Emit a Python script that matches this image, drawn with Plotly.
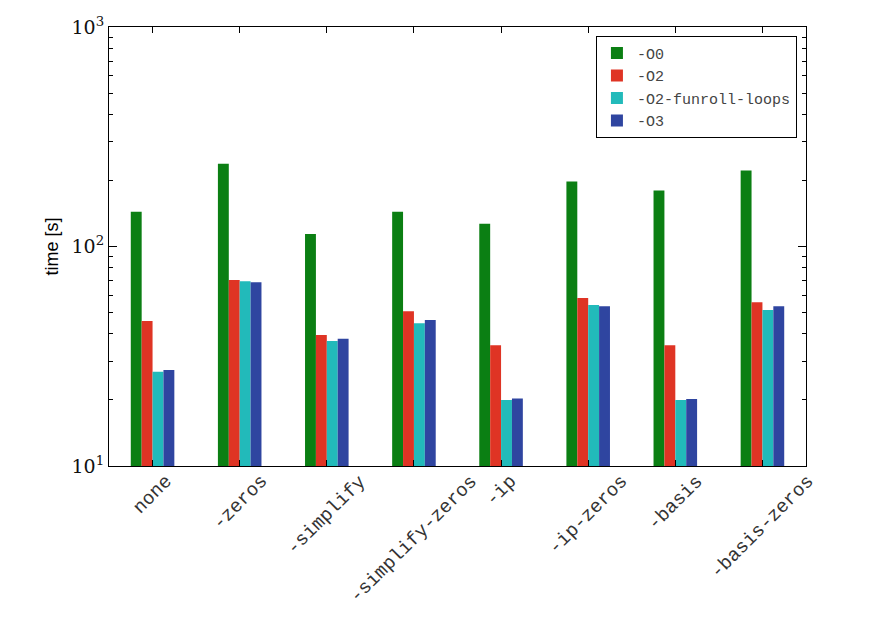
import plotly.graph_objects as go

categories = ["none", "-zeros", "-simplify", "-simplify-zeros", "-ip", "-ip-zeros", "-basis", "-basis-zeros"]
series_names = ["-O0", "-O2", "-O2-funroll-loops", "-O3"]
o0 = [144, 238, 114, 144, 127, 198, 180, 222]
o2 = [45.8, 70.4, 39.5, 50.7, 35.5, 58.3, 35.5, 55.7]
o2_unroll = [26.9, 69.4, 37.1, 44.7, 20.0, 54.1, 20.0, 51.4]
o3 = [27.4, 68.7, 38.0, 46.3, 20.3, 53.4, 20.2, 53.4]
colors = ["#0b7f13", "#df3424", "#22baba", "#2f45a0"]
y_tickvals = [10, 100, 1000]
y_ticktext = ["10<sup>1</sup>", "10<sup>2</sup>", "10<sup>3</sup>"]

fig = go.Figure()
xs = list(range(len(categories)))
for name, vals, col in zip(series_names, [o0, o2, o2_unroll, o3], colors):
    fig.add_trace(go.Bar(x=xs, y=vals, name=name,
                         marker=dict(color=col, line=dict(width=0))))

for i, lab in enumerate(categories):
    fig.add_annotation(x=i, y=0, xref="x", yref="paper", text=lab, showarrow=False,
                       textangle=-45, xanchor="center", yanchor="top", yshift=-2,
                       font=dict(family="Liberation Mono", size=19, color="#333333"))

fig.update_layout(
    width=870, height=619,
    margin=dict(l=109, r=64, t=27, b=153),
    paper_bgcolor="white", plot_bgcolor="white",
    barmode="group", bargap=0.5, bargroupgap=0,
    showlegend=True,
    legend=dict(x=0.987, y=0.98, xanchor="right", yanchor="top",
                bordercolor="black", borderwidth=1, bgcolor="white",
                font=dict(family="Liberation Mono", size=15, color="#444444"),
                itemwidth=30, tracegroupgap=2),
)
fig.update_xaxes(range=[-0.5, 7.5], tickvals=xs, showticklabels=False,
                 ticks="inside", ticklen=6, tickcolor="black",
                 showline=True, linecolor="black", linewidth=1.2, mirror="ticks",
                 showgrid=False, zeroline=False)
fig.update_yaxes(type="log", range=[1, 3], tickvals=y_tickvals, ticktext=y_ticktext,
                 ticks="inside", ticklen=8, tickcolor="black",
                 minor=dict(ticks="inside", ticklen=4, tickcolor="black", dtick="D1", showgrid=False),
                 showline=True, linecolor="black", linewidth=1.2, mirror="allticks",
                 showgrid=False, zeroline=False,
                 tickfont=dict(family="DejaVu Serif", size=19, color="#111111"),
                 title=dict(text="time [s]", font=dict(family="Liberation Sans", size=18, color="black"),
                            standoff=8))

fig.write_html("out.html")
